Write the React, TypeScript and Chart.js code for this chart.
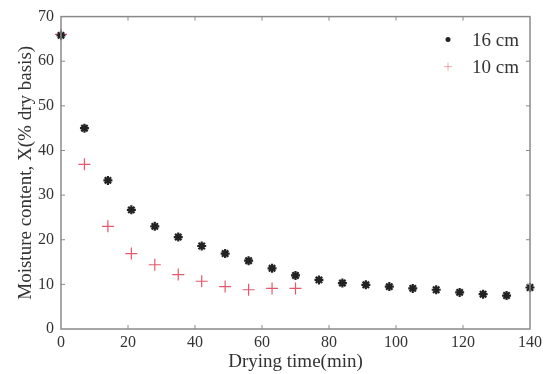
import React, { useEffect, useRef } from "react";
import { Chart, registerables } from "chart.js";

Chart.register(...registerables);

const timeMin = [0, 7, 14, 21, 28, 35, 42, 49, 56, 63, 70, 77, 84, 91, 98, 105, 112, 119, 126, 133, 140];
const moisture16 = [65.8, 45.0, 33.3, 26.7, 23.0, 20.6, 18.6, 16.9, 15.3, 13.6, 12.0, 11.0, 10.3, 9.9, 9.5, 9.1, 8.8, 8.2, 7.8, 7.5, 9.3];
const time10 = [0, 7, 14, 21, 28, 35, 42, 49, 56, 63, 70];
const moisture10 = [66.0, 36.9, 23.0, 16.9, 14.4, 12.2, 10.7, 9.5, 8.8, 9.1, 9.1];
const seriesLabels = ["16 cm", "10 cm"];
const xTitle = "Drying time(min)";
const yTitle = "Moisture content, X(% dry basis)";

const FONT = '"Liberation Serif", "Times New Roman", serif';
const TEXT = "#333333";
const AXIS = "#8a8a8a";
const BLACK = "#222222";
const RED = "rgba(226,70,92,0.9)";

const framePlugin = {
  id: "frameTicks",
  afterDraw(chart: any) {
    const { ctx, chartArea } = chart;
    const { left, right, top, bottom } = chartArea;
    ctx.save();
    ctx.strokeStyle = AXIS;
    ctx.lineWidth = 1.5;
    ctx.strokeRect(left, top, right - left, bottom - top);
    ctx.lineWidth = 1;
    const tl = 4;
    const xs = chart.scales.x;
    xs.ticks.forEach((t: any) => {
      const px = xs.getPixelForValue(t.value);
      if (Math.abs(px - left) < 1 || Math.abs(px - right) < 1) return;
      ctx.beginPath();
      ctx.moveTo(px, bottom);
      ctx.lineTo(px, bottom - tl);
      ctx.moveTo(px, top);
      ctx.lineTo(px, top + tl);
      ctx.stroke();
    });
    const ys = chart.scales.y;
    ys.ticks.forEach((t: any) => {
      const py = ys.getPixelForValue(t.value);
      if (Math.abs(py - top) < 1 || Math.abs(py - bottom) < 1) return;
      ctx.beginPath();
      ctx.moveTo(left, py);
      ctx.lineTo(left + tl, py);
      ctx.moveTo(right, py);
      ctx.lineTo(right - tl, py);
      ctx.stroke();
    });
    ctx.restore();
  },
};

const legendPlugin = {
  id: "insideLegend",
  afterDraw(chart: any) {
    const { ctx, chartArea } = chart;
    const mx = chartArea.right - 82;
    const tx = chartArea.right - 58;
    const rows = [chartArea.top + 23, chartArea.top + 50];
    ctx.save();
    ctx.font = `19px ${FONT}`;
    ctx.textBaseline = "middle";
    ctx.textAlign = "left";
    chart.data.datasets.forEach((ds: any, i: number) => {
      const y = rows[i];
      ctx.strokeStyle = ds.borderColor;
      if (ds.pointStyle === "star") {
        ctx.fillStyle = ds.borderColor;
        ctx.beginPath();
        ctx.arc(mx, y, 2.5, 0, Math.PI * 2);
        ctx.fill();
      } else {
        ctx.lineWidth = 1;
        ctx.strokeStyle = "rgba(226,70,92,0.45)";
        ctx.beginPath();
        ctx.moveTo(mx - 4, y);
        ctx.lineTo(mx + 4, y);
        ctx.moveTo(mx, y - 4);
        ctx.lineTo(mx, y + 4);
        ctx.stroke();
      }
      ctx.fillStyle = TEXT;
      ctx.fillText(ds.label, tx, y + 1);
    });
    ctx.restore();
  },
};

export default function App() {
  const ref = useRef<HTMLCanvasElement>(null);
  useEffect(() => {
    document.body.style.margin = "0";
    const chart = new Chart(ref.current as HTMLCanvasElement, {
      type: "scatter",
      data: {
        datasets: [
          {
            label: seriesLabels[0],
            data: timeMin.map((x, i) => ({ x, y: moisture16[i] })),
            pointStyle: "star",
            pointRadius: 4.5,
            borderWidth: 2.2,
            borderColor: BLACK,
            backgroundColor: BLACK,
            clip: false,
          } as any,
          {
            label: seriesLabels[1],
            data: time10.map((x, i) => ({ x, y: moisture10[i] })),
            pointStyle: "cross",
            pointRadius: 6,
            borderWidth: 1.2,
            borderColor: RED,
            backgroundColor: RED,
            clip: false,
          } as any,
        ],
      },
      options: {
        animation: false,
        responsive: false,
        layout: { padding: { top: 14, right: 17, left: 0, bottom: 0 } },
        plugins: { legend: { display: false }, tooltip: { enabled: false } },
        scales: {
          x: {
            type: "linear",
            min: 0,
            max: 140,
            ticks: { stepSize: 20, padding: 4, color: TEXT, font: { family: FONT, size: 16 } },
            grid: { display: false, drawTicks: false },
            border: { display: false },
            title: {
              display: true,
              text: xTitle,
              color: TEXT,
              font: { family: FONT, size: 19 },
              padding: { top: 0, bottom: 1 },
            },
            afterFit(scale: any) {
              scale.height = 45;
            },
          },
          y: {
            type: "linear",
            min: 0,
            max: 70,
            ticks: { stepSize: 10, padding: 7, color: TEXT, font: { family: FONT, size: 16 } },
            grid: { display: false, drawTicks: false },
            border: { display: false },
            title: {
              display: true,
              text: yTitle,
              color: TEXT,
              font: { family: FONT, size: 19 },
              padding: { top: 15, bottom: 0 },
            },
            afterFit(scale: any) {
              scale.width = 61;
            },
          },
        },
      },
      plugins: [framePlugin, legendPlugin],
    });
    return () => chart.destroy();
  }, []);
  return (
    <div style={{ width: 547, height: 374, background: "#fff" }}>
      <canvas ref={ref} width={547} height={374} />
    </div>
  );
}
